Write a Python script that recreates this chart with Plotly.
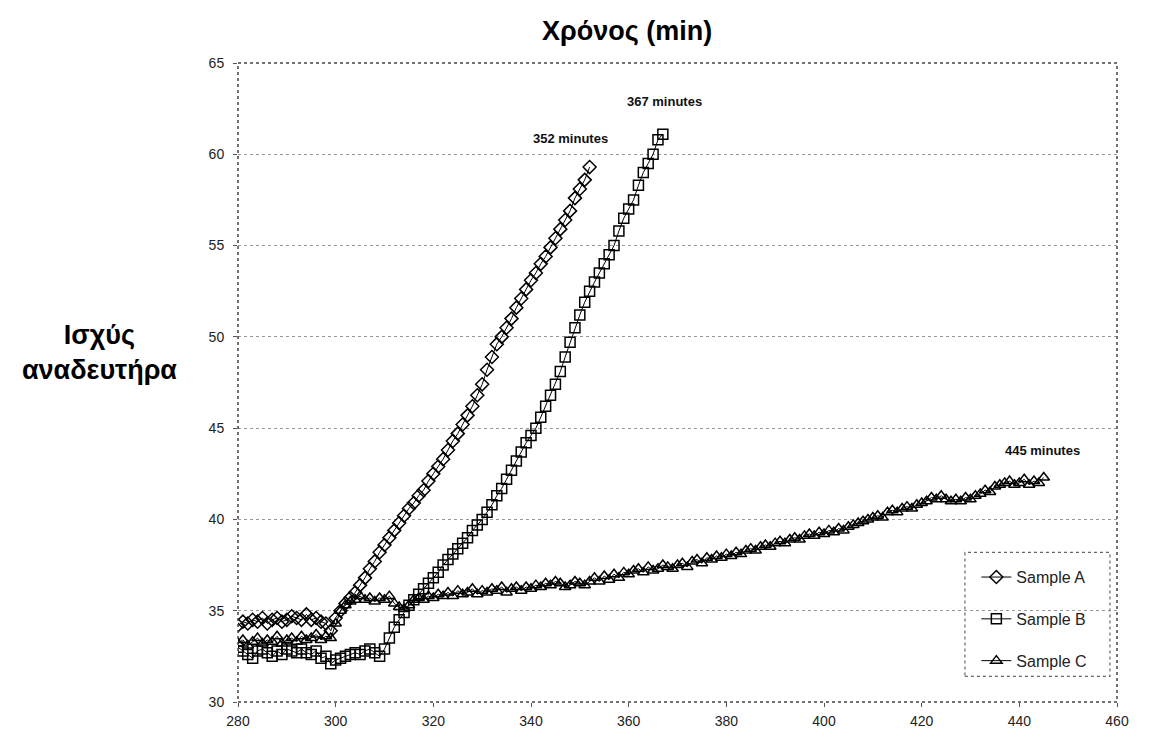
import plotly.graph_objects as go

# ---------------- data ----------------
time_a = list(range(280, 353))
sample_a = [34.2, 34.4, 34.3, 34.5, 34.4, 34.6, 34.3, 34.5, 34.6, 34.4,
            34.5, 34.7, 34.6, 34.5, 34.8, 34.5, 34.6, 34.4, 34.3, 33.9,
            34.6, 35.0, 35.4, 35.7, 36.0, 36.4, 36.8, 37.3, 37.7, 38.2,
            38.6, 39.0, 39.4, 39.8, 40.2, 40.6, 40.9, 41.3, 41.6, 42.1,
            42.5, 42.9, 43.3, 43.8, 44.3, 44.7, 45.2, 45.7, 46.2, 46.8,
            47.4, 48.2, 48.9, 49.6, 50.0, 50.5, 51.0, 51.6, 52.1, 52.6,
            53.1, 53.5, 54.0, 54.4, 54.9, 55.4, 55.9, 56.4, 56.9, 57.6,
            58.1, 58.6, 59.3]

time_b = list(range(280, 368))
sample_b = [33.0, 32.8, 32.6, 32.4, 32.8, 32.9, 32.7, 32.5, 32.8, 32.6,
            32.9, 32.8, 32.7, 32.9, 32.7, 32.6, 32.8, 32.4, 32.5, 32.1,
            32.3, 32.4, 32.5, 32.6, 32.7, 32.6, 32.8, 32.9, 32.7, 32.5,
            32.9, 33.5, 34.1, 34.5, 34.9, 35.3, 35.6, 35.9, 36.2, 36.5,
            36.8, 37.1, 37.5, 37.8, 38.1, 38.4, 38.7, 39.0, 39.4, 39.7,
            40.0, 40.4, 40.8, 41.3, 41.7, 42.2, 42.7, 43.2, 43.7, 44.2,
            44.6, 45.0, 45.6, 46.2, 46.8, 47.4, 48.1, 48.9, 49.7, 50.5,
            51.2, 51.9, 52.5, 53.0, 53.5, 54.0, 54.5, 55.0, 55.8, 56.5,
            57.0, 57.5, 58.3, 59.0, 59.5, 60.0, 60.8, 61.1]

time_c = list(range(280, 446))
sample_c = [33.2, 33.4, 33.1, 33.3, 33.5, 33.2, 33.4, 33.3, 33.6, 33.2,
            33.4, 33.5, 33.3, 33.6, 33.4, 33.5, 33.7, 33.4, 33.6, 33.5,
            34.3, 35.0, 35.3, 35.5, 35.6, 35.8, 35.6, 35.7, 35.5, 35.7,
            35.6, 35.8, 35.4, 35.2, 35.1, 35.3, 35.6, 35.7, 35.6, 35.8,
            35.7, 35.9, 35.8, 36.0, 35.8, 36.1, 35.9, 36.0, 36.2, 35.9,
            36.1, 36.0, 36.2, 36.1, 36.3, 36.0, 36.2, 36.3, 36.1, 36.3,
            36.2, 36.4, 36.3, 36.5, 36.4, 36.6, 36.5, 36.3, 36.4, 36.6,
            36.5, 36.4, 36.6, 36.8, 36.6, 36.9, 36.7, 37.0, 36.8, 37.1,
            37.0, 37.2, 37.3, 37.1, 37.4, 37.2, 37.3, 37.5, 37.4, 37.3,
            37.5, 37.6, 37.4, 37.7, 37.8, 37.6, 37.9, 37.8, 38.0, 37.9,
            38.1, 38.0, 38.2, 38.1, 38.3, 38.4, 38.3, 38.5, 38.6, 38.5,
            38.7, 38.8, 38.7, 38.9, 39.0, 38.9, 39.1, 39.2, 39.1, 39.3,
            39.2, 39.4, 39.3, 39.5, 39.4, 39.6, 39.7, 39.8, 39.9, 40.0,
            40.1, 40.2, 40.1, 40.4, 40.5, 40.4, 40.6, 40.7, 40.6, 40.8,
            40.9, 41.0, 41.2, 41.1, 41.3, 41.1, 41.0, 41.1, 41.0, 41.2,
            41.1, 41.3, 41.4, 41.6, 41.5, 41.8, 41.9, 42.0, 42.1, 41.9,
            42.0, 42.2, 41.9, 42.1, 42.0, 42.3]

series_names = ["Sample A", "Sample B", "Sample C"]
end_labels = ["352 minutes", "367 minutes", "445 minutes"]
end_label_pos = [(348, 60.85), (367.4, 62.9), (444.8, 43.75)]
x_ticks = [280, 300, 320, 340, 360, 380, 400, 420, 440, 460]
y_ticks = [30, 35, 40, 45, 50, 55, 60, 65]

# ---------------- figure ----------------
fig = go.Figure()
symbols = ["diamond-open", "square-open", "triangle-up-open"]
for i, (name, xs, ys, sym) in enumerate(zip(series_names, [time_a, time_b, time_c],
                                             [sample_a, sample_b, sample_c], symbols)):
    fig.add_trace(go.Scatter(
        x=xs, y=ys, name=name, mode="lines+markers", legendgroup=f"g{i}",
        line=dict(color="black", width=1),
        marker=dict(symbol=sym, size=10, color="black",
                    line=dict(color="black", width=1.5)),
    ))

for txt, (ax, ay) in zip(end_labels, end_label_pos):
    fig.add_annotation(x=ax, y=ay, text=f"<b>{txt}</b>", showarrow=False,
                       xanchor="center", yanchor="middle",
                       font=dict(family="Liberation Sans, Arial", size=13, color="#111"))

fig.add_annotation(xref="paper", yref="paper", x=0.443, y=1.05,
                   xanchor="center", yanchor="middle",
                   text="<b>Χρόνος (min)</b>", showarrow=False,
                   font=dict(family="Liberation Sans, Arial", size=27, color="black"))
fig.add_annotation(xref="paper", yref="paper", x=-0.157, y=0.547,
                   xanchor="center", yanchor="middle",
                   text="<b>Ισχύς<br>αναδευτήρα</b>", showarrow=False, align="center",
                   font=dict(family="Liberation Sans, Arial", size=27, color="black"))

# plot border (dotted)
fig.add_shape(type="rect", xref="paper", yref="paper", x0=0, y0=0, x1=1, y1=1,
              line=dict(color="#444", width=1.5, dash="dot"), layer="above")
# legend box (dotted)
fig.add_shape(type="rect", xref="paper", yref="paper", x0=0.827, y0=0.04, x1=0.992, y1=0.234,
              line=dict(color="#666", width=1.2, dash="dot"), fillcolor="white", layer="below")

fig.update_layout(
    width=1141, height=741,
    margin=dict(l=238, r=14, t=63, b=21),
    paper_bgcolor="white", plot_bgcolor="white",
    font=dict(family="Liberation Sans, Arial", color="#222"),
    showlegend=True,
    legend=dict(x=0.84, y=0.222, xanchor="left", yanchor="top",
                bgcolor="rgba(0,0,0,0)", borderwidth=0,
                font=dict(size=16, color="#222"), tracegroupgap=18),
    xaxis=dict(range=[280, 460], tickvals=x_ticks, showgrid=False, zeroline=False,
               ticks="outside", ticklen=4, tickcolor="#555", showline=False,
               ticklabelstandoff=2, tickfont=dict(size=14, color="#222")),
    yaxis=dict(range=[30, 65], tickvals=y_ticks, showgrid=True, gridcolor="#999",
               griddash="dot", gridwidth=1, zeroline=False, ticks="outside", ticklen=4,
               tickcolor="#555", showline=False, ticklabelstandoff=6,
               tickfont=dict(size=14, color="#222")),
)

fig.write_html("out.html")
